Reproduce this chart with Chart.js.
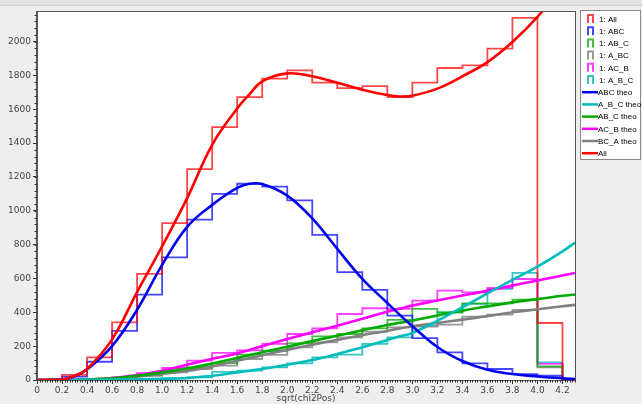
<!DOCTYPE html>
<html>
<head>
<meta charset="utf-8">
<script src="https://cdn.jsdelivr.net/npm/chart.js@4.4.1/dist/chart.umd.min.js"></script>
<style>
html, body { margin: 0; padding: 0; background: #eeeeee; }
canvas { display: block; }
</style>
</head>
<body>
<canvas id="chi2" width="642" height="404"></canvas>
<script>
// histogram bins (edges), 21 bins of width 0.2
var binEdges = [0, 0.2, 0.4, 0.6, 0.8, 1.0, 1.2, 1.4, 1.6, 1.8, 2.0, 2.2, 2.4, 2.6, 2.8, 3.0, 3.2, 3.4, 3.6, 3.8, 4.0, 4.2];

var histAll  = [0, 30, 134, 341, 627, 927, 1246, 1495, 1672, 1781, 1830, 1757, 1725, 1737, 1672, 1757, 1844, 1860, 1958, 2140, 337];
var histABC  = [0, 20, 108, 290, 505, 725, 948, 1100, 1160, 1143, 1062, 858, 637, 533, 380, 248, 163, 98, 65, 35, 25];
var histAB_C = [0, 1, 3, 10, 30, 55, 75, 100, 150, 173, 217, 258, 272, 305, 355, 420, 400, 453, 453, 475, 80];
var histA_BC = [0, 1, 3, 8, 25, 45, 65, 85, 124, 148, 193, 222, 252, 286, 311, 315, 327, 375, 386, 414, 75];
var histAC_B = [0, 1, 5, 15, 40, 71, 114, 160, 175, 213, 272, 305, 390, 424, 420, 469, 528, 518, 545, 597, 95];
var histA_B_C = [0, 0, 1, 2, 5, 10, 15, 48, 55, 75, 98, 134, 150, 213, 252, 320, 400, 450, 538, 633, 104];

// theory curves, sampled along x
var theoX     = [0, 0.2, 0.3, 0.4, 0.6, 0.8, 1.0, 1.2, 1.4, 1.6, 1.7, 1.8, 2.0, 2.2, 2.4, 2.6, 2.8, 2.9, 3.0, 3.2, 3.4, 3.6, 3.8, 4.0, 4.2, 4.3];
var theoAll   = [0, 2, 25, 65, 240, 520, 790, 1075, 1390, 1605, 1690, 1765, 1812, 1795, 1757, 1716, 1684, 1676, 1680, 1722, 1795, 1879, 1998, 2146, 2330, 2430];
var theoABC   = [0, 2, 22, 62, 200, 415, 680, 905, 1035, 1135, 1160, 1158, 1090, 955, 775, 598, 455, 385, 318, 195, 112, 60, 35, 21, 10, 6];
var theoA_B_C = [0, 0, 0, 1, 2, 4, 7, 12, 25, 45, 55, 65, 90, 118, 154, 193, 237, 258, 278, 350, 430, 512, 592, 670, 760, 812];
var theoAB_C  = [0, 0, 0, 2, 10, 25, 45, 68, 97, 130, 147, 164, 197, 230, 262, 294, 325, 338, 351, 381, 410, 435, 459, 478, 498, 505];
var theoAC_B  = [0, 0, 1, 3, 12, 30, 55, 90, 125, 157, 178, 200, 242, 282, 321, 362, 404, 422, 440, 470, 499, 528, 558, 588, 618, 633];
var theoBC_A  = [0, 0, 0, 2, 8, 20, 36, 53, 80, 114, 130, 146, 178, 208, 237, 265, 290, 305, 318, 337, 357, 378, 400, 418, 436, 444];

// axis tick labels
var yTicks = [0, 200, 400, 600, 800, 1000, 1200, 1400, 1600, 1800, 2000];
var xMax = 4.3;
var yMax = 2175;

function histPoints(vals)
{
    var pts = [];
    for (var i = 0; i < vals.length; i++)
        pts.push({x: binEdges[i], y: vals[i]});
    pts.push({x: binEdges[vals.length], y: 0});
    pts.push({x: xMax, y: 0});
    return pts;
}

function theoPoints(vals)
{
    return theoX.map(function (x, i) { return {x: x, y: vals[i]}; });
}

function hist(label, vals, color)
{
    return {label: label, data: histPoints(vals), hist: true, legendColor: color,
            borderColor: color, borderWidth: 1.8, stepped: 'before', pointRadius: 0, order: 2};
}

function theo(label, vals, color)
{
    return {label: label, data: theoPoints(vals), hist: false, legendColor: color,
            borderColor: color, borderWidth: 2.6, tension: 0.4, pointRadius: 0, order: 1};
}

var datasets = [
    hist('1: All', histAll, 'rgba(255,0,0,0.72)'),
    hist('1: ABC', histABC, 'rgba(0,0,255,0.72)'),
    hist('1: AB_C', histAB_C, 'rgba(0,170,0,0.75)'),
    hist('1: A_BC', histA_BC, 'rgba(128,128,128,0.8)'),
    hist('1: AC_B', histAC_B, 'rgba(255,0,255,0.75)'),
    hist('1: A_B_C', histA_B_C, 'rgba(0,180,180,0.78)'),
    theo('ABC theo', theoABC, '#0000ee'),
    theo('A_B_C theo', theoA_B_C, '#00bcbc'),
    theo('AB_C theo', theoAB_C, '#00aa00'),
    theo('AC_B theo', theoAC_B, '#ff00ff'),
    theo('BC_A theo', theoBC_A, '#808080'),
    theo('All', theoAll, '#ff0000')
];
datasets[datasets.length - 1].order = 0;

var panel = {
    id: 'panel',
    beforeDraw: function (chart)
    {
        var ctx = chart.ctx, a = chart.chartArea;
        ctx.save();
        ctx.fillStyle = '#eeeeee';
        ctx.fillRect(0, 0, chart.width, chart.height);
        ctx.fillStyle = '#e2e2e2';
        ctx.fillRect(0, 0, chart.width, 5);
        ctx.fillStyle = '#cfcfcf';
        ctx.fillRect(0, 5, chart.width, 1);
        ctx.fillStyle = '#ffffff';
        ctx.fillRect(a.left, a.top, a.right - a.left, a.bottom - a.top);
        ctx.restore();
    },
    afterDraw: function (chart)
    {
        var ctx = chart.ctx, a = chart.chartArea;
        var xs = chart.scales.x, ys = chart.scales.y;
        ctx.save();
        // frame
        ctx.strokeStyle = '#555555';
        ctx.lineWidth = 1;
        ctx.strokeRect(Math.round(a.left) - 0.5, Math.round(a.top) - 0.5,
                       Math.round(a.right - a.left) + 1, Math.round(a.bottom - a.top) + 1);
        // minor ticks
        ctx.strokeStyle = '#333333';
        ctx.beginPath();
        for (var k = 0; k <= 215; k++)
        {
            var px = Math.round(xs.getPixelForValue(k * 0.02)) + 0.5;
            ctx.moveTo(px, a.bottom);
            ctx.lineTo(px, a.bottom + 2.5);
        }
        for (var j = 0; j <= 54; j++)
        {
            var py = Math.round(ys.getPixelForValue(j * 40)) + 0.5;
            ctx.moveTo(a.left, py);
            ctx.lineTo(a.left - 2.5, py);
        }
        ctx.stroke();

        // legend
        var lx = 580, ly = 10, lw = 60, lh = 149;
        ctx.fillStyle = '#ffffff';
        ctx.fillRect(lx, ly, lw, lh);
        ctx.strokeStyle = '#8a8a8a';
        ctx.strokeRect(lx + 0.5, ly + 0.5, lw, lh);
        ctx.font = '8px "Liberation Sans"';
        ctx.textBaseline = 'middle';
        chart.data.datasets.forEach(function (ds, i)
        {
            var y = 19 + i * 12.2;
            ctx.strokeStyle = ds.legendColor;
            ctx.beginPath();
            if (ds.hist)
            {
                ctx.lineWidth = 2;
                ctx.moveTo(588, y + 4);
                ctx.lineTo(588, y - 4);
                ctx.lineTo(593, y - 4);
                ctx.lineTo(593, y + 4);
            }
            else
            {
                ctx.lineWidth = 2.5;
                ctx.moveTo(582, y);
                ctx.lineTo(598, y);
            }
            ctx.stroke();
            ctx.fillStyle = '#000000';
            ctx.fillText(ds.label, ds.hist ? 599 : 598, y + 0.5);
        });
        ctx.restore();
    }
};

new Chart(document.getElementById('chi2'),
    {
        type: 'line',
        data: { datasets: datasets },
        options:
        {
            responsive: false,
            animation: false,
            events: [],
            layout: { padding: { left: 0, top: 12, right: 67, bottom: 0 } },
            plugins: { legend: { display: false }, tooltip: { enabled: false } },
            scales:
            {
                x:
                {
                    type: 'linear', min: 0, max: xMax,
                    afterFit: function (s) { s.height = 24; },
                    border: { display: true, color: '#555555' },
                    grid: { drawOnChartArea: false, tickLength: 4, color: '#333333' },
                    ticks:
                    {
                        stepSize: 0.2, includeBounds: false, maxRotation: 0, autoSkip: false, padding: 1,
                        maxTicksLimit: 40,
                        color: '#444444', font: { family: 'DejaVu Sans', size: 9 },
                        callback: function (v) { return v === 0 ? '0' : v.toFixed(1); }
                    },
                    title:
                    {
                        display: true, text: 'sqrt(chi2Pos)', color: '#444444',
                        font: { family: 'DejaVu Sans', size: 9 }, padding: { top: 0, bottom: 0 }
                    }
                },
                y:
                {
                    type: 'linear', min: 0, max: yMax,
                    afterFit: function (s) { s.width = 37; },
                    afterBuildTicks: function (s) { s.ticks = yTicks.map(function (v) { return {value: v}; }); },
                    border: { display: true, color: '#555555' },
                    grid: { drawOnChartArea: false, tickLength: 4, color: '#333333' },
                    ticks:
                    {
                        padding: 2, autoSkip: false,
                        color: '#444444', font: { family: 'DejaVu Sans', size: 9 },
                        callback: function (v) { return String(Math.round(v)); }
                    }
                }
            }
        },
        plugins: [panel]
    });
</script>
</body>
</html>
